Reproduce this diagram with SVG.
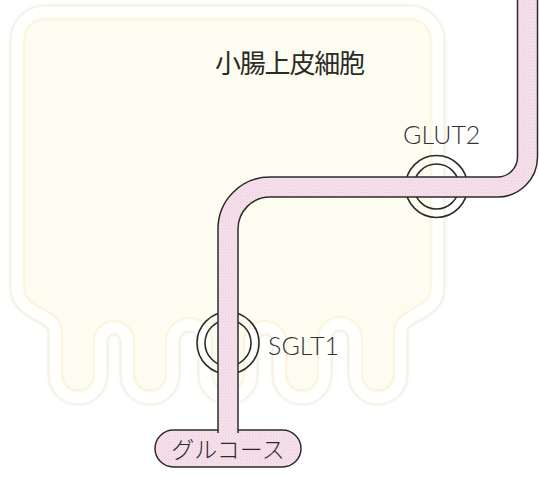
<svg xmlns="http://www.w3.org/2000/svg" width="539" height="477" viewBox="0 0 539 477">
  <defs>
    <!-- fine halftone used for the glucose path -->
    <pattern id="pinkTex" patternUnits="userSpaceOnUse" width="3" height="3">
      <rect width="3" height="3" fill="#f8e5ef"/>
      <rect width="1.5" height="1.5" fill="#ecd0df"/>
      <rect x="1.5" y="1.5" width="1.5" height="1.5" fill="#f0d8e5"/>
    </pattern>
    <filter id="soft" x="-10%" y="-10%" width="120%" height="120%">
      <feGaussianBlur stdDeviation="1.3"/>
    </filter>
    <!-- outline of the epithelial cell with its microvilli -->
    <path id="cellShape" d="M45,20 H410 A20,20 0 0 1 430,40 V288 C430,310 393,306 393,332 V375 A15,15 0 0 1 363,375 V339 A23,23 0 0 0 317,339 V375 A15,15 0 0 1 287,375 V342 A22,22 0 0 0 243,342 V375 A15,15 0 0 1 213,375 V341 A24,24 0 0 0 165,341 V375 A15,15 0 0 1 135,375 V341 A21,21 0 0 0 93,341 V375 A15,15 0 0 1 63,375 V332 C63,306 25,310 25,288 V40 A20,20 0 0 1 45,20 Z"/>
  </defs>
  <style>
    .ring { fill: none; stroke: #2b2b2b; stroke-width: 1.6; }
    .label { font-family: "Lato", "Liberation Sans", sans-serif; font-weight: 300; fill: #333; }
    .jp { font-family: "Noto Sans CJK JP", sans-serif; fill: #2a2a2a; }
  </style>

  <rect width="539" height="477" fill="#ffffff"/>

  <!-- intestinal epithelial cell -->
  <g id="cell">
    <use href="#cellShape" fill="none" stroke="#f1eee4" stroke-width="31" filter="url(#soft)"/>
    <use href="#cellShape" fill="none" stroke="#fffffd" stroke-width="27"/>
    <use href="#cellShape" fill="#fdfbef" stroke="#f7ebc8" stroke-width="2.5" filter="url(#soft)"/>
    <use href="#cellShape" fill="#fdfcf0" stroke="none"/>
    <text class="jp" x="215" y="73" font-size="26" font-weight="400" textLength="150">小腸上皮細胞</text>
  </g>

  <!-- transporters -->
  <g id="glut2">
    <circle class="ring" cx="436.5" cy="186.5" r="31"/>
    <circle class="ring" cx="436.5" cy="186.5" r="22.5"/>
    <text class="label" x="403" y="144" font-size="25">GLUT2</text>
  </g>
  <g id="sglt1">
    <circle class="ring" cx="228" cy="343" r="31"/>
    <circle class="ring" cx="228" cy="343" r="23"/>
    <text class="label" x="268" y="355" font-size="25">SGLT1</text>
  </g>

  <!-- glucose -->
  <g id="glucose">
    <rect x="155" y="430" width="146" height="37" rx="18.5" fill="url(#pinkTex)" stroke="#2b2b2b" stroke-width="1.5"/>
    <text class="jp" x="228" y="458" font-size="23" font-weight="300" text-anchor="middle">グルコース</text>
  </g>

  <!-- glucose route through the cell -->
  <g id="connectors">
    <path d="M527.5,-5 V157 A30,30 0 0 1 497.5,187 H270 A42,42 0 0 0 228,229 V433" fill="none" stroke="#2b2b2b" stroke-width="21.5"/>
    <path d="M527.5,-5 V157 A30,30 0 0 1 497.5,187 H270 A42,42 0 0 0 228,229 V433" fill="none" stroke="url(#pinkTex)" stroke-width="18.5"/>
  </g>
</svg>
